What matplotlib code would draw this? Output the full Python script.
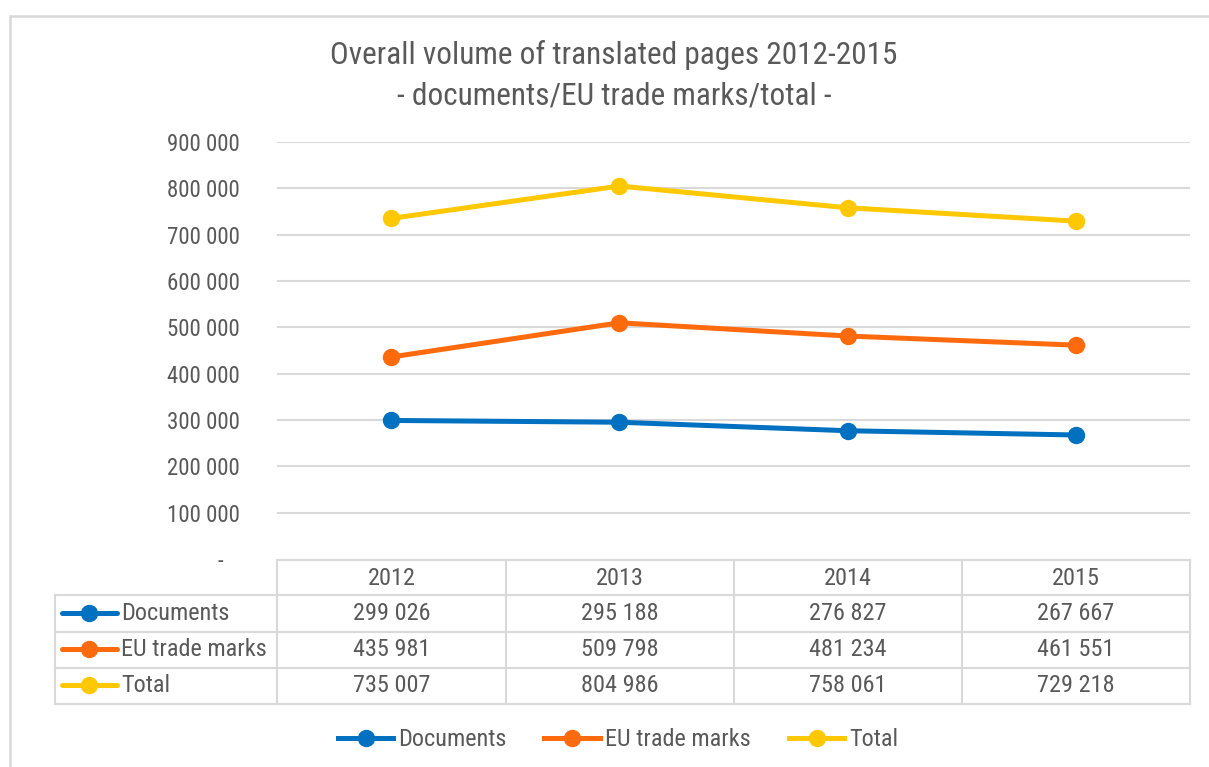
import matplotlib.pyplot as plt
from matplotlib.lines import Line2D
from matplotlib.patches import Rectangle

plt.rcParams['font.family'] = ['Roboto Condensed', 'Liberation Sans', 'DejaVu Sans']

years = ["2012", "2013", "2014", "2015"]
series_names = ["Documents", "EU trade marks", "Total"]
documents = [299026, 295188, 276827, 267667]
trade_marks = [435981, 509798, 481234, 461551]
total = [735007, 804986, 758061, 729218]
yticks = [0, 100000, 200000, 300000, 400000, 500000, 600000, 700000, 800000, 900000]

colors = ["#0070C0", "#FF6A0D", "#FFC800"]
text_col = "#595959"
grid_col = "#D9D9D9"
fs = 17.5

W, H = 1209, 767
fig = plt.figure(figsize=(W / 100, H / 100), dpi=100)


def fx(x):
    return x / W


def fy(y):
    return 1 - y / H


def hline(x0, x1, y, lw=1.5):
    fig.add_artist(Line2D([fx(x0), fx(x1)], [fy(y), fy(y)], color=grid_col, lw=lw))


def vline(x, y0, y1, lw=1.5):
    fig.add_artist(Line2D([fx(x), fx(x)], [fy(y0), fy(y1)], color=grid_col, lw=lw))


# outer chart border (runs off the right and bottom edges)
fig.add_artist(Rectangle((fx(10), fy(800)), fx(1300), (800 - 16) / H,
                         fill=False, ec=grid_col, lw=1.8))

# plot area
left, right, top, bottom = 277, 1190, 142, 559
ax = fig.add_axes([fx(left), fy(bottom), fx(right - left), (bottom - top) / H])
ax.set_xlim(-0.5, 3.5)
ax.set_ylim(0, 900000)
for s in ax.spines.values():
    s.set_visible(False)
ax.set_yticks(yticks)
ax.set_yticklabels(["-   "] + [f"{v:,}".replace(",", " ") for v in yticks[1:]])
ax.tick_params(axis="y", length=0, pad=27, labelsize=16.5, labelcolor=text_col)
ax.set_xticks([])
for v in yticks[1:]:
    ax.axhline(v, color=grid_col, lw=1.5, zorder=0)

all_series = [documents, trade_marks, total]
x = range(len(years))
for name, vals, c in zip(series_names, all_series, colors):
    ax.plot(x, vals, color=c, lw=3.6, marker="o", ms=11.5, label=name, clip_on=False)

# title
fig.text(fx(614), fy(55), "Overall volume of translated pages 2012-2015",
         ha="center", va="center", fontsize=22.5, color=text_col)
fig.text(fx(614), fy(96), "- documents/EU trade marks/total -",
         ha="center", va="center", fontsize=22.5, color=text_col)

# data table
col_edges = [277, 506, 734, 962, 1190]
row_edges = [560, 595, 632, 668, 704]
tab_left = 55
hline(col_edges[0], col_edges[-1], row_edges[0])
for y in row_edges[1:]:
    hline(tab_left, col_edges[-1], y)
for xe in col_edges:
    vline(xe, row_edges[0], row_edges[-1])
vline(tab_left, row_edges[1], row_edges[-1])

for i, yr in enumerate(years):
    cx = (col_edges[i] + col_edges[i + 1]) / 2
    fig.text(fx(cx), fy((row_edges[0] + row_edges[1]) / 2 + 1), yr, ha="center",
             va="center", fontsize=fs, color=text_col)

for r, (name, vals, c) in enumerate(zip(series_names, all_series, colors)):
    cy = (row_edges[r + 1] + row_edges[r + 2]) / 2
    fig.add_artist(Line2D([fx(62), fx(117)], [fy(cy - 1), fy(cy - 1)], color=c, lw=3.6,
                          solid_capstyle="round"))
    fig.add_artist(Line2D([fx(89)], [fy(cy - 1)], color=c, marker="o", ms=11.5))
    fig.text(fx(121), fy(cy), name, ha="left", va="center", fontsize=fs, color=text_col)
    for i, v in enumerate(vals):
        cx = (col_edges[i] + col_edges[i + 1]) / 2
        fig.text(fx(cx), fy(cy), f"{v:,}".replace(",", " "), ha="center", va="center",
                 fontsize=fs, color=text_col)

# legend
leg = fig.legend(loc="center", bbox_to_anchor=(fx(618), fy(740)), ncol=3, frameon=False,
                 fontsize=fs, labelcolor=text_col, handlelength=2.3, handletextpad=0.2,
                 columnspacing=1.55)

fig.savefig("out.png", dpi=100)
